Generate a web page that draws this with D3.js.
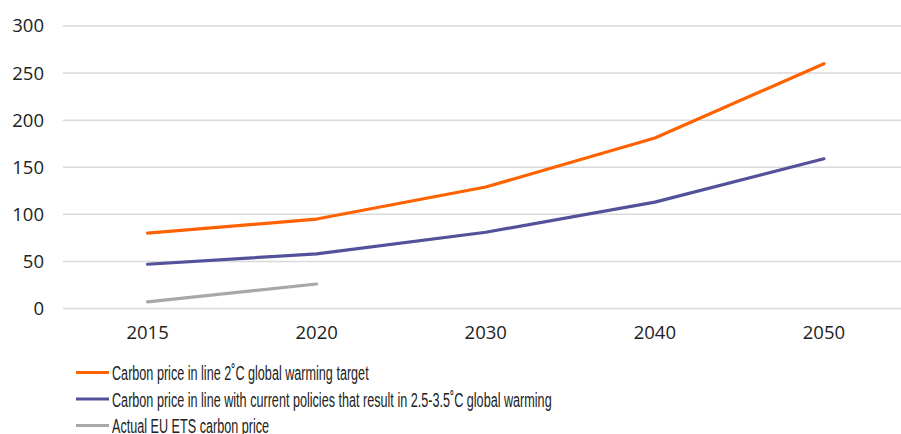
<!DOCTYPE html>
<html>
<head>
<meta charset="utf-8">
<script src="https://cdn.jsdelivr.net/npm/d3@7"></script>
<style>
  html, body { margin: 0; padding: 0; background: #fff; }
  svg { display: block; }
</style>
</head>
<body>
<svg id="chart" width="901" height="434"></svg>
<script>
// Carbon price scenarios (EUR/t)
const years = ["2015", "2020", "2030", "2040", "2050"];
const target2C = [80, 95, 129, 181, 260];
const currentPolicies = [47, 58, 81, 113, 159];
const actualEUETS = [7, 26];
const yTicks = [0, 50, 100, 150, 200, 250, 300];

const seriesNames = [
  "Carbon price in line 2\u02DAC global warming target",
  "Carbon price in line with current policies that result in 2.5-3.5\u02DAC global warming",
  "Actual EU ETS carbon price"
];
const seriesColors = ["#FF6200", "#525199", "#A8A8A8"];
const seriesValues = [target2C, currentPolicies, actualEUETS];

const svg = d3.select("#chart");
const axisFont = "'Open Sans', 'Liberation Sans', sans-serif";
const legendFont = "'Liberation Sans', Arial, sans-serif";

const x = d3.scaleBand().domain(years).range([63, 908.5]);
const y = d3.scaleLinear().domain([0, 300]).range([308.5, 26]);

// Horizontal gridlines
svg.append("g")
  .selectAll("line")
  .data(yTicks)
  .join("line")
  .attr("x1", 63).attr("x2", 901)
  .attr("y1", d => y(d)).attr("y2", d => y(d))
  .attr("stroke", "#D9D9D9").attr("stroke-width", 1.5);

// Y axis labels
const yAxis = svg.append("g")
  .attr("transform", "translate(44,0)")
  .call(d3.axisLeft(y).tickValues(yTicks).tickSize(0).tickPadding(0));
yAxis.select(".domain").remove();
yAxis.selectAll("text")
  .attr("font-family", axisFont).attr("font-size", 18.5).attr("fill", "#222");

// X axis labels
const xAxis = svg.append("g")
  .attr("transform", "translate(0,318)")
  .call(d3.axisBottom(x).tickSize(0).tickPadding(8));
xAxis.select(".domain").remove();
xAxis.selectAll("text")
  .attr("font-family", axisFont).attr("font-size", 18.5).attr("fill", "#222");

// Series lines
const line = d3.line()
  .x((d, i) => x(years[i]) + x.bandwidth() / 2)
  .y(d => y(d));

svg.append("g")
  .selectAll("path")
  .data(seriesValues)
  .join("path")
  .attr("d", d => line(d))
  .attr("fill", "none")
  .attr("stroke", (d, i) => seriesColors[i])
  .attr("stroke-width", 3.2)
  .attr("stroke-linecap", "round")
  .attr("stroke-linejoin", "round");

// Legend
const legend = svg.append("g")
  .selectAll("g")
  .data(seriesNames)
  .join("g")
  .attr("transform", (d, i) => `translate(76,${372.5 + i * 26.5})`);

legend.append("line")
  .attr("x1", 0).attr("x2", 33)
  .attr("stroke", (d, i) => seriesColors[i])
  .attr("stroke-width", 3.2);

const labels = legend.append("text")
  .attr("dy", "0.36em")
  .attr("font-family", legendFont)
  .attr("font-size", 21)
  .attr("fill", "#222")
  .text(d => d);

// Legend face is a condensed type; squeeze labels horizontally to suit
const widest = d3.max(labels.nodes(), n => n.getComputedTextLength());
const squeeze = 440 / widest;
labels.attr("transform", `translate(36,0) scale(${squeeze},1)`);
</script>
</body>
</html>
